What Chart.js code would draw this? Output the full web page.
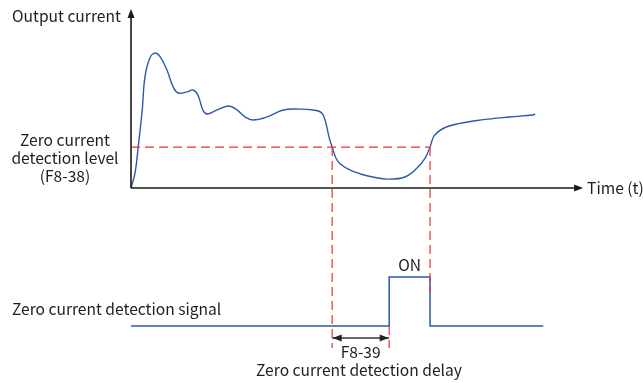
<!DOCTYPE html>
<html>
<head>
<meta charset="utf-8">
<script src="https://cdn.jsdelivr.net/npm/chart.js@4/dist/chart.umd.min.js"></script>
<style>
  html, body { margin: 0; padding: 0; background: #fff; }
  canvas { display: block; }
</style>
</head>
<body>
<canvas id="c" width="643" height="383"></canvas>
<script>
// Output current over time (arbitrary units: time 0..100, current 0..100)
const curveTime = [0, 0.9, 1.6, 2.5, 3.1, 4.2, 5.3, 6.5, 8.0, 9.4, 10.5, 12.5, 13.8, 14.9, 16.0, 16.9,
  19.2, 21.8, 23.6, 25.4, 27.2, 30.3, 33.9, 37.6, 40.5, 42.5, 43.4, 44.1, 44.8, 46.0, 48.5, 52.5,
  57.0, 61.0, 63.7, 65.5, 66.6, 67.5, 69.5, 73.0, 78.0, 84.4, 89.5, 90.0];
const curveCurrent = [0, 8.6, 23.4, 44.6, 63.4, 74.3, 77.1, 74.9, 67.4, 57.7, 54.3, 54.9, 56.0, 53.1, 44.6, 42.3,
  44.6, 46.9, 44.6, 40.6, 38.9, 40.6, 44.6, 45.1, 44.6, 42.9, 37.1, 29.1, 23.4, 15.5, 10.6, 7.0,
  5.1, 6.3, 11.4, 17.1, 23.4, 29.8, 34.0, 36.8, 38.9, 40.6, 41.7, 42.3];

// Zero current detection level (F8-38) and the two crossing instants
const detectionLevel = 23.4;
const crossDown = 44.8;   // current falls below the level
const crossUp = 66.6;     // current rises above the level again
const delayEnd = 57.5;    // crossDown + F8-39 delay

// Zero current detection signal (drawn below the time axis)
const signalLow = -78.9;
const signalHigh = -50.9;
const signalStart = 0;
const signalEnd = 91.8;

// Axis extents
const timeAxisEnd = 99.8;
const currentAxisEnd = 100;
const delayArrowY = -85.7;
const guideBottom = -91.4;
const guideUpBottom = -59.4;

const BLUE = '#2c5aa9';
const RED = '#ea3232';
const INK = '#1a1a1a';

const pts = (xs, ys) => xs.map((x, i) => ({ x, y: ys[i] }));

const line = (data, color, extra) => Object.assign({
  type: 'line', data, borderColor: color, borderWidth: 1.3, pointRadius: 0,
  fill: false, tension: 0, showLine: true
}, extra || {});

const dash = { borderDash: [9, 5], borderWidth: 1.2 };

const datasets = [
  // axes
  line([{ x: 0, y: 0 }, { x: timeAxisEnd, y: 0 }], INK, { borderWidth: 1.6 }),
  line([{ x: 0, y: 0 }, { x: 0, y: currentAxisEnd }], INK, { borderWidth: 1.6 }),
  // detection level and guides
  line([{ x: 0, y: detectionLevel }, { x: crossUp, y: detectionLevel }], RED, dash),
  line([{ x: crossDown, y: detectionLevel }, { x: crossDown, y: guideBottom }], RED, dash),
  line([{ x: crossUp, y: detectionLevel }, { x: crossUp, y: guideUpBottom }], RED, dash),
  line([{ x: delayEnd, y: signalLow }, { x: delayEnd, y: guideBottom }], RED, dash),
  // output current curve
  line(pts(curveTime, curveCurrent), BLUE, { tension: 0.4, borderWidth: 1.4 }),
  // detection signal
  line([
    { x: signalStart, y: signalLow }, { x: delayEnd, y: signalLow }, { x: delayEnd, y: signalHigh },
    { x: crossUp, y: signalHigh }, { x: crossUp, y: signalLow }, { x: signalEnd, y: signalLow }
  ], BLUE, { borderWidth: 1.5 }),
  // delay arrow shaft
  line([{ x: crossDown, y: delayArrowY }, { x: delayEnd, y: delayArrowY }], '#333', { borderWidth: 1.6 })
];

function tri(ctx, tipX, tipY, dir, len, half) {
  ctx.beginPath();
  if (dir === 'up') { ctx.moveTo(tipX, tipY); ctx.lineTo(tipX - half, tipY + len); ctx.lineTo(tipX + half, tipY + len); }
  if (dir === 'right') { ctx.moveTo(tipX, tipY); ctx.lineTo(tipX - len, tipY - half); ctx.lineTo(tipX - len, tipY + half); }
  if (dir === 'left') { ctx.moveTo(tipX, tipY); ctx.lineTo(tipX + len, tipY - half); ctx.lineTo(tipX + len, tipY + half); }
  ctx.closePath();
  ctx.fill();
}

const annotate = {
  id: 'annotate',
  afterDatasetsDraw(chart) {
    const { ctx, scales: { x, y } } = chart;
    const X = v => x.getPixelForValue(v), Y = v => y.getPixelForValue(v);
    ctx.save();
    ctx.fillStyle = INK;
    tri(ctx, X(0), Y(currentAxisEnd) - 4, 'up', 9, 3.5);
    tri(ctx, X(timeAxisEnd) + 4, Y(0), 'right', 9, 3.5);
    ctx.fillStyle = '#222';
    tri(ctx, X(crossDown) + 0.5, Y(delayArrowY), 'left', 9, 3.5);
    tri(ctx, X(delayEnd) - 0.5, Y(delayArrowY), 'right', 9, 3.5);

    ctx.fillStyle = '#1e1e1e';
    ctx.font = '15.6px "Noto Sans CJK SC", "Noto Sans", sans-serif';
    ctx.textBaseline = 'middle';
    ctx.textAlign = 'left';
    ctx.fillText('Output current', 12, 16);
    ctx.fillText('Time (t)', X(timeAxisEnd) + 8, Y(0));
    ctx.fillText('Zero current detection signal', 12, 309);
    ctx.textAlign = 'center';
    ctx.fillText('Zero current', 65, 140);
    ctx.fillText('detection level', 65, 158);
    ctx.fillText('(F8-38)', 65, 176);
    ctx.fillText('ON', (X(delayEnd) + X(crossUp)) / 2, Y(signalHigh) - 12);
    ctx.fillText('F8-39', (X(crossDown) + X(delayEnd)) / 2, Y(delayArrowY) + 14);
    ctx.fillText('Zero current detection delay', 359, 370);
    ctx.restore();
  }
};

new Chart(document.getElementById('c'), {
  type: 'scatter',
  data: { datasets },
  options: {
    responsive: false,
    animation: false,
    events: [],
    layout: { padding: 0 },
    plugins: { legend: { display: false }, tooltip: { enabled: false } },
    scales: {
      x: { type: 'linear', display: false, min: -29.18, max: 114.03 },
      y: { type: 'linear', display: false, min: -111.43, max: 107.43 }
    }
  },
  plugins: [annotate]
});
</script>
</body>
</html>
